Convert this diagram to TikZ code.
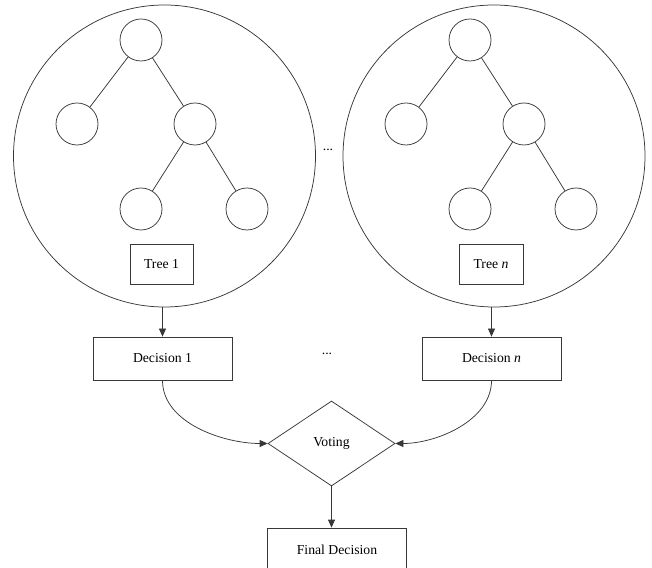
\documentclass[tikz,border=0pt]{standalone}
\usepackage{fontspec}
\setmainfont{Liberation Serif}
\usetikzlibrary{shapes.geometric,arrows.meta}
\begin{document}
\begin{tikzpicture}[x=1pt,y=1pt,
  ln/.style={draw=black!78,line width=0.75pt},
  arr/.style={ln,-{Triangle[length=8pt,width=7pt]}},
  big/.style={ln,circle,inner sep=0pt,minimum size=302pt},
  leaf/.style={ln,circle,inner sep=0pt,minimum size=42pt},
  box/.style={ln,rectangle,inner sep=0pt,font=\fontsize{13.7}{16}\selectfont},
  lbl/.style={inner sep=0pt,font=\fontsize{13.7}{16}\selectfont}]
\useasboundingbox (0,0) rectangle (652,567);
% big circles
\node[big] (c1) at (164.5,411) {};
\node[big] (c2) at (494,411) {};
% left tree
\node[leaf] (a1) at (141,527) {};
\node[leaf] (a2) at (77,443) {};
\node[leaf] (a3) at (195,443) {};
\node[leaf] (a4) at (141,358) {};
\node[leaf] (a5) at (247,358) {};
\draw[ln] (a1) -- (a2);
\draw[ln] (a1) -- (a3);
\draw[ln] (a3) -- (a4);
\draw[ln] (a3) -- (a5);
% right tree
\node[leaf] (b1) at (470,527) {};
\node[leaf] (b2) at (406,443) {};
\node[leaf] (b3) at (524,443) {};
\node[leaf] (b4) at (470,358) {};
\node[leaf] (b5) at (576,358) {};
\draw[ln] (b1) -- (b2);
\draw[ln] (b1) -- (b3);
\draw[ln] (b3) -- (b4);
\draw[ln] (b3) -- (b5);
% tree labels
\node[box,minimum width=63pt,minimum height=40pt] (t1) at (161.5,303) {Tree 1};
\node[box,minimum width=64pt,minimum height=40pt] (tn) at (491,303) {Tree \textit{n}};
\node[lbl] (e1) at (328,417) {...};
% decisions
\node[box,minimum width=139pt,minimum height=43pt] (d1) at (162.5,208.5) {Decision 1};
\node[box,minimum width=139pt,minimum height=43pt] (dn) at (491.5,208.5) {Decision \textit{n}};
\node[lbl] (e2) at (327,213) {...};
\draw[arr] (c1.south -| d1.north) -- (d1.north);
\draw[arr] (c2.south -| dn.north) -- (dn.north);
% voting
\node[ln,diamond,inner sep=0pt,minimum width=127pt,minimum height=85pt,font=\fontsize{13.7}{16}\selectfont] (v) at (331.5,123.5) {Voting};
\draw[arr] (d1.south) to[out=-90,in=180,looseness=0.9] (v.west);
\draw[arr] (dn.south) to[out=-90,in=0,looseness=0.9] (v.east);
% final
\node[box,minimum width=139pt,minimum height=43pt] (f) at (337,17.5) {Final Decision};
\draw[arr] (v.south) -- (v.south |- f.north);
\end{tikzpicture}
\end{document}
